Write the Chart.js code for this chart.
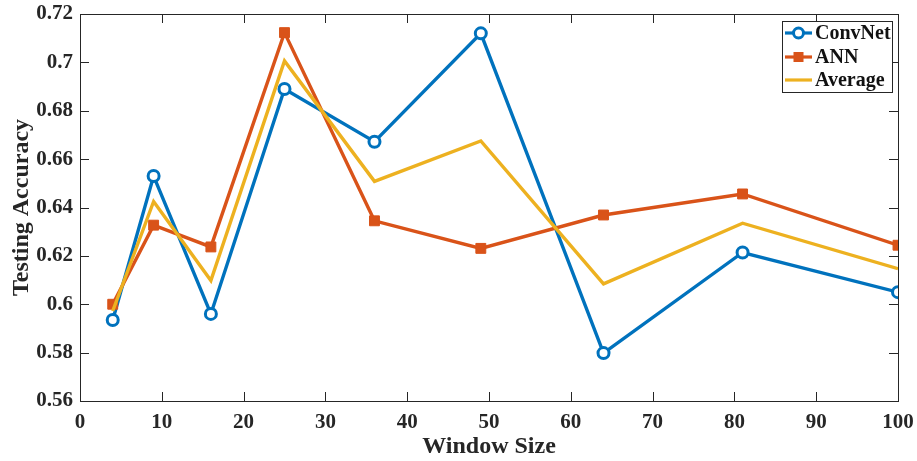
<!DOCTYPE html>
<html>
<head>
<meta charset="utf-8">
<script src="https://cdn.jsdelivr.net/npm/chart.js@4.4.0/dist/chart.umd.min.js"></script>
<style>
  html, body { margin: 0; padding: 0; background: #fff; }
  #wrap { width: 917px; height: 461px; }
</style>
</head>
<body>
<div id="wrap"><canvas id="accChart" width="917" height="461"></canvas></div>
<script>
const windowSizes = [4, 9, 16, 25, 36, 49, 64, 81, 100];
const convNet = [0.5935, 0.653, 0.596, 0.689, 0.6672, 0.712, 0.5798, 0.6214, 0.605];
const ann = [0.600, 0.6327, 0.6237, 0.7123, 0.6345, 0.6231, 0.6369, 0.6456, 0.6244];
const average = [0.5972, 0.6425, 0.6098, 0.7006, 0.6508, 0.6675, 0.6084, 0.6335, 0.6147];
const xTicks = [0, 10, 20, 30, 40, 50, 60, 70, 80, 90, 100];
const yTicks = [0.56, 0.58, 0.6, 0.62, 0.64, 0.66, 0.68, 0.7, 0.72];

const FONT = '"Liberation Serif", "Times New Roman", serif';

function toPoints(ys) {
    return windowSizes.map((x, i) => ({ x: x, y: ys[i] }));
}

// box, inward ticks, titles and legend like the MATLAB figure
const frame = {
    id: 'frame',
    afterDatasetsDraw(chart) {
        const { ctx, chartArea: a, scales } = chart;
        ctx.save();
        ctx.strokeStyle = '#262626';
        ctx.lineWidth = 1;
        ctx.strokeRect(a.left + 0.5, a.top + 0.5, a.right - a.left, a.bottom - a.top);
        const len = 9;
        ctx.beginPath();
        xTicks.forEach(v => {
            const px = Math.round(scales.x.getPixelForValue(v)) + 0.5;
            ctx.moveTo(px, a.bottom); ctx.lineTo(px, a.bottom - len);
            ctx.moveTo(px, a.top); ctx.lineTo(px, a.top + len);
        });
        yTicks.forEach(v => {
            const py = Math.round(scales.y.getPixelForValue(v)) + 0.5;
            ctx.moveTo(a.left, py); ctx.lineTo(a.left + len, py);
            ctx.moveTo(a.right, py); ctx.lineTo(a.right - len, py);
        });
        ctx.stroke();

        // axis titles
        ctx.fillStyle = '#262626';
        ctx.font = 'bold 24px ' + FONT;
        ctx.textAlign = 'center';
        ctx.textBaseline = 'middle';
        ctx.fillText('Window Size', (a.left + a.right) / 2, 447);
        ctx.save();
        ctx.translate(22, (a.top + a.bottom) / 2);
        ctx.rotate(-Math.PI / 2);
        ctx.fillText('Testing Accuracy', 0, 0);
        ctx.restore();

        // legend
        const lx = 782, ly = 21, lw = 110, lh = 71;
        ctx.fillStyle = '#fff';
        ctx.fillRect(lx, ly, lw, lh);
        ctx.strokeStyle = '#262626';
        ctx.lineWidth = 1;
        ctx.strokeRect(lx + 0.5, ly + 0.5, lw, lh);
        const rows = [33, 57, 80];
        ctx.font = 'bold 20px ' + FONT;
        ctx.textAlign = 'left';
        chart.data.datasets.forEach((ds, i) => {
            const y = rows[i];
            ctx.strokeStyle = ds.borderColor;
            ctx.lineWidth = 3.2;
            ctx.beginPath();
            ctx.moveTo(785, y); ctx.lineTo(812, y);
            ctx.stroke();
            const mx = 798.5;
            if (ds.pointStyle === 'circle' && ds.pointRadius > 0) {
                ctx.fillStyle = '#fff';
                ctx.beginPath();
                ctx.arc(mx, y, 5, 0, Math.PI * 2);
                ctx.fill();
                ctx.lineWidth = 3;
                ctx.stroke();
            } else if (ds.pointStyle === 'rect' && ds.pointRadius > 0) {
                ctx.fillStyle = ds.borderColor;
                ctx.fillRect(mx - 5, y - 5, 10, 10);
            }
            ctx.fillStyle = '#111';
            ctx.fillText(ds.label, 815, y + 1);
        });
        ctx.restore();
    }
};

new Chart(document.getElementById('accChart').getContext('2d'), {
    type: 'line',
    data: {
        datasets: [
            {
                label: 'ConvNet',
                data: toPoints(convNet),
                borderColor: '#0072BD',
                borderWidth: 3.4,
                pointStyle: 'circle',
                pointRadius: 5.5,
                pointBorderWidth: 3,
                pointBackgroundColor: '#fff',
                pointBorderColor: '#0072BD',
                order: 2
            },
            {
                label: 'ANN',
                data: toPoints(ann),
                borderColor: '#D95319',
                borderWidth: 3.4,
                pointStyle: 'rect',
                pointRadius: 7,
                pointBorderWidth: 1,
                pointBackgroundColor: '#D95319',
                pointBorderColor: '#D95319',
                order: 1
            },
            {
                label: 'Average',
                data: toPoints(average),
                borderColor: '#EDB120',
                borderWidth: 3.4,
                pointRadius: 0,
                order: 0
            }
        ]
    },
    options: {
        responsive: false,
        animation: false,
        layout: { padding: { top: 14, right: 19, left: 0, bottom: 0 } },
        plugins: {
            legend: { display: false },
            tooltip: { enabled: false }
        },
        scales: {
            x: {
                type: 'linear',
                min: 0,
                max: 100,
                grid: { display: false, drawTicks: false },
                border: { display: false },
                afterFit: s => { s.height = 60; s.paddingLeft = 0; s.paddingRight = 0; },
                afterBuildTicks: s => { s.ticks = xTicks.map(v => ({ value: v })); },
                ticks: {
                    padding: 9,
                    color: '#262626',
                    maxRotation: 0,
                    font: { family: FONT, size: 21, weight: 'bold' }
                }
            },
            y: {
                min: 0.56,
                max: 0.72,
                grid: { display: false, drawTicks: false },
                border: { display: false },
                afterFit: s => { s.width = 80; s.paddingTop = 0; s.paddingBottom = 0; },
                afterBuildTicks: s => { s.ticks = yTicks.map(v => ({ value: v })); },
                ticks: {
                    padding: 7,
                    color: '#262626',
                    font: { family: FONT, size: 21, weight: 'bold' },
                    callback: v => String(parseFloat(Number(v).toFixed(2)))
                }
            }
        }
    },
    plugins: [frame]
});
</script>
</body>
</html>
